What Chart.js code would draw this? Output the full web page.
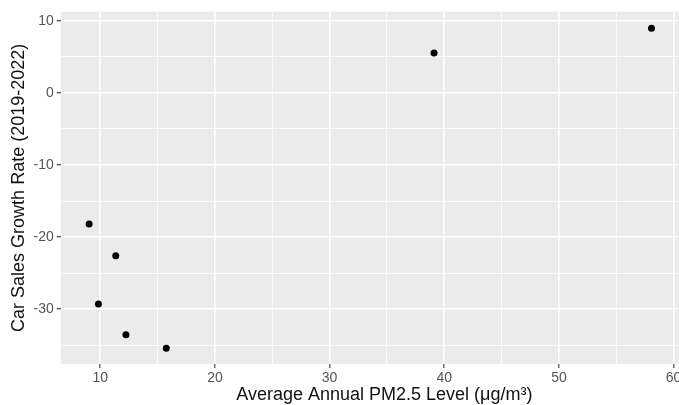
<!DOCTYPE html>
<html>
<head>
<meta charset="utf-8">
<script src="https://cdn.jsdelivr.net/npm/chart.js@4"></script>
<style>
  html, body { margin: 0; padding: 0; background: #fff; overflow: hidden; }
  #wrap { width: 720px; height: 405px; }
</style>
</head>
<body>
<div id="wrap"><canvas id="scatterChart" width="720" height="405"></canvas></div>
<script>
// values
const pm25 = [9.03, 11.35, 9.84, 12.24, 15.76, 39.11, 58.07];
const growth = [-18.19, -22.6, -29.27, -33.56, -35.4, 5.54, 8.96];

// axis breaks (major ones get labels, minor ones only a thin grid line)
const xMajor = [10, 20, 30, 40, 50, 60];
const xMinor = [15, 25, 35, 45, 55];
const yMajor = [-30, -20, -10, 0, 10];
const yMinor = [-35, -25, -15, -5, 5];

const xTitle = 'Average Annual PM2.5 Level (μg/m³)';
const yTitle = 'Car Sales Growth Rate (2019-2022)';

function isMajor(list, v) {
    return list.indexOf(v) !== -1;
}

// grey panel behind the grid, like ggplot's theme_gray
const panelBg = {
    id: 'panelBg',
    beforeDraw(chart) {
        const a = chart.chartArea;
        const c = chart.ctx;
        c.save();
        c.fillStyle = '#EBEBEB';
        c.fillRect(a.left, a.top, a.right - a.left, a.bottom - a.top);
        c.restore();
    }
};

const ctx = document.getElementById('scatterChart');

const myChart = new Chart(ctx, {
    type: 'scatter',
    data: {
        datasets: [{
            data: pm25.map((x, i) => ({ x: x, y: growth[i] })),
            backgroundColor: '#000',
            borderColor: '#000',
            borderWidth: 0,
            pointRadius: 3.5,
            pointHoverRadius: 3.5
        }]
    },
    options: {
        responsive: false,
        animation: false,
        events: [],
        layout: { padding: { top: 11.7, right: 12, left: 0, bottom: 0 } },
        plugins: { legend: { display: false }, tooltip: { enabled: false } },
        scales: {
            x: {
                type: 'linear',
                min: 6.55,
                max: 63,
                afterBuildTicks: s => { s.ticks = xMajor.concat(xMinor).sort((a, b) => a - b).map(v => ({ value: v })); },
                afterFit: s => { s.height = 41; },
                border: { display: false },
                grid: {
                    color: c => '#FFFFFF',
                    lineWidth: c => isMajor(xMajor, c.tick.value) ? 1.6 : 0.8,
                    tickColor: c => isMajor(xMajor, c.tick.value) ? '#333333' : 'rgba(0,0,0,0)',
                    tickWidth: 1.1,
                    tickLength: 4
                },
                ticks: {
                    autoSkip: false,
                    maxRotation: 0,
                    padding: 2,
                    color: '#555555',
                    font: { family: 'Liberation Sans, Arial, sans-serif', size: 14 },
                    callback: v => isMajor(xMajor, v) ? String(v) : ''
                },
                title: {
                    display: true,
                    text: xTitle,
                    color: '#111111',
                    font: { family: 'Liberation Sans, Arial, sans-serif', size: 18, lineHeight: 1.2 },
                    padding: { top: 0, bottom: -1 }
                }
            },
            y: {
                type: 'linear',
                min: -37.6,
                max: 11.25,
                afterBuildTicks: s => { s.ticks = yMajor.concat(yMinor).sort((a, b) => a - b).map(v => ({ value: v })); },
                afterFit: s => { s.width = 60.7; },
                border: { display: false },
                grid: {
                    color: c => '#FFFFFF',
                    lineWidth: c => isMajor(yMajor, c.tick.value) ? 1.6 : 0.8,
                    tickColor: c => isMajor(yMajor, c.tick.value) ? '#333333' : 'rgba(0,0,0,0)',
                    tickWidth: 1.1,
                    tickLength: 4
                },
                ticks: {
                    autoSkip: false,
                    padding: 3,
                    color: '#555555',
                    font: { family: 'Liberation Sans, Arial, sans-serif', size: 14 },
                    callback: v => isMajor(yMajor, v) ? String(v) : ''
                },
                title: {
                    display: true,
                    text: yTitle,
                    color: '#111111',
                    font: { family: 'Liberation Sans, Arial, sans-serif', size: 18, lineHeight: 1.2 },
                    padding: { top: 8.2, bottom: 0 }
                }
            }
        }
    },
    plugins: [panelBg]
});
</script>
</body>
</html>
